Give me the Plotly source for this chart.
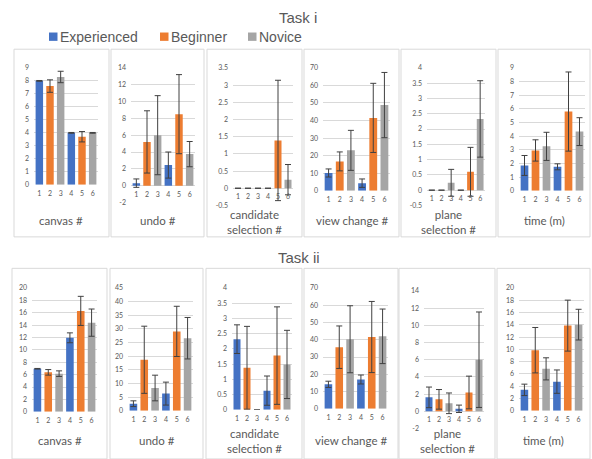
import plotly.graph_objects as go

# ---------------- data ----------------
categories = [1, 2, 3, 4, 5, 6]
group_names = ["Experienced", "Beginner", "Novice"]
group_colors = ["#4472C4", "#ED7D31", "#A5A5A5"]
bar_colors = ["#4472C4", "#ED7D31", "#A5A5A5", "#4472C4", "#ED7D31", "#A5A5A5"]

metric_titles = ["canvas #", "undo #", "candidate<br>selection #",
                 "view change #", "plane<br>selection #", "time (m)"]

# Task i
t1_canvas = [8.0, 7.6, 8.3, 4.0, 3.7, 4.0]
t1_canvas_err = [0.03, 0.48, 0.44, 0.03, 0.4, 0.03]
t1_undo = [0.3, 5.2, 6.0, 2.45, 8.5, 3.75]
t1_undo_err = [0.5, 3.7, 4.7, 1.55, 4.7, 1.5]
t1_cand = [0, 0, 0, 0, 1.39, 0.25]
t1_cand_err = [0, 0, 0, 0, 1.75, 0.44]
t1_view = [10.1, 16.7, 23.0, 4.3, 41.5, 48.8]
t1_view_err = [2.3, 5.4, 11.4, 2.4, 19.7, 18.6]
t1_plane = [0, 0, 0.24, 0, 0.6, 2.33]
t1_plane_err = [0, 0, 0.44, 0, 0.8, 1.25]
t1_time = [1.85, 2.95, 3.25, 1.75, 5.8, 4.33]
t1_time_err = [0.73, 0.78, 1.03, 0.22, 2.9, 1.02]

# Task ii
t2_canvas = [6.95, 6.37, 6.16, 11.95, 16.3, 14.4]
t2_canvas_err = [0.05, 0.45, 0.45, 0.8, 2.35, 2.2]
t2_undo = [2.6, 18.7, 8.35, 6.3, 29.1, 26.6]
t2_undo_err = [1.05, 12.3, 4.7, 4.2, 9.2, 7.6]
t2_cand = [2.32, 1.38, 0, 0.63, 1.78, 1.49]
t2_cand_err = [0.47, 1.36, 0, 0.48, 1.6, 1.12]
t2_view = [14.2, 35.7, 40.3, 17.0, 41.6, 42.0]
t2_view_err = [1.8, 12.3, 19.4, 2.6, 20.6, 15.8]
t2_plane = [1.62, 1.39, 0.93, 0.29, 2.19, 6.0]
t2_plane_err = [1.2, 1.14, 1.2, 0.43, 1.9, 5.55]
t2_time = [3.41, 9.87, 6.83, 4.75, 13.87, 14.03]
t2_time_err = [0.93, 3.7, 1.8, 1.9, 4.15, 2.5]

# y axis scales (min, max, step)
t1_scales = [(0, 9, 1), (-2, 14, 2), (-0.5, 3.5, 0.5), (0, 70, 10), (-0.5, 4, 0.5), (0, 9, 1)]
t2_scales = [(0, 20, 2), (0, 45, 5), (0, 4, 0.5), (0, 70, 10), (-2, 14, 2), (0, 20, 2)]

# ---------------- layout geometry (pixels) ----------------
W, H = 592, 459
GRID = "#D9D9D9"
TXT = "#595959"

row1_panels = [(14, 109), (111, 204), (207, 302), (304, 399), (401, 496), (498, 590)]
row2_panels = [(12, 107), (110, 203), (206, 302), (304, 398), (399, 495), (497, 590)]
row1_box = (45, 236)
row2_box = (268, 462)
row1_plots = [(34, 98, 64, 183), (131, 195, 64, 201), (233, 293, 64, 204),
              (323, 390, 64, 189), (427, 485, 64, 204), (519, 585, 64, 189)]
row2_plots = [(32, 97, 288, 414), (128, 193, 288, 413), (232, 292, 288, 412),
              (323, 388, 288, 411), (424, 484, 291, 431), (519, 584, 288, 413)]


def px(x):
    return x / W


def py(y):
    return 1 - y / H


def fmt(v):
    return f"{v:g}"


rows = [
    dict(vals=[t1_canvas, t1_undo, t1_cand, t1_view, t1_plane, t1_time],
         errs=[t1_canvas_err, t1_undo_err, t1_cand_err, t1_view_err, t1_plane_err, t1_time_err],
         scales=t1_scales, panels=row1_panels, box=row1_box, plots=row1_plots,
         title_y=(219.5, 220.5)),
    dict(vals=[t2_canvas, t2_undo, t2_cand, t2_view, t2_plane, t2_time],
         errs=[t2_canvas_err, t2_undo_err, t2_cand_err, t2_view_err, t2_plane_err, t2_time_err],
         scales=t2_scales, panels=row2_panels, box=row2_box, plots=row2_plots,
         title_y=(443.5, 444)),
]

fig = go.Figure()
layout = {}
shapes = []
annotations = []

n = 0
for row in rows:
    for k in range(6):
        n += 1
        suffix = "" if n == 1 else str(n)
        x0, x1, ytop, ybot = row["plots"][k]
        ymin, ymax, step = row["scales"][k]
        fig.add_trace(go.Bar(
            x=categories, y=row["vals"][k],
            marker=dict(color=bar_colors, line=dict(width=0)),
            width=0.7,
            error_y=dict(type="data", array=row["errs"][k], visible=True,
                         color="#404040", thickness=1, width=3),
            xaxis="x" + suffix, yaxis="y" + suffix, showlegend=False,
            hoverinfo="x+y",
        ))
        zero_px = ytop + (ymax - 0) / (ymax - ymin) * (ybot - ytop)
        nt = int(round((ymax - ymin) / step))
        tv = [ymin + i * step for i in range(nt + 1)]
        layout["xaxis" + suffix] = dict(
            domain=[px(x0), px(x1)], range=[0.5, 6.5], anchor="free",
            position=py(zero_px), tickvals=categories,
            ticktext=[str(c) for c in categories],
            showgrid=False, zeroline=False, showline=False, ticks="",
            ticklabelstandoff=3,
            tickfont=dict(family="Lato", size=7, color=TXT), fixedrange=True,
        )
        layout["yaxis" + suffix] = dict(
            domain=[py(ybot), py(ytop)], range=[ymin, ymax], anchor="x" + suffix,
            tickvals=tv, ticktext=[fmt(v) for v in tv],
            showgrid=True, gridcolor=GRID, gridwidth=1, zeroline=False,
            showline=False, ticks="", ticklabelstandoff=4,
            tickfont=dict(family="Lato", size=7, color=TXT), fixedrange=True,
        )
        # panel border
        px0, px1 = row["panels"][k]
        by0, by1 = row["box"]
        shapes.append(dict(type="rect", xref="paper", yref="paper",
                           x0=px(px0), x1=px(px1), y0=py(by1), y1=py(by0),
                           line=dict(color=GRID, width=1), fillcolor="rgba(0,0,0,0)",
                           layer="below"))
        two = "<br>" in metric_titles[k]
        ty = row["title_y"][1] if two else row["title_y"][0]
        annotations.append(dict(text=metric_titles[k], xref="paper", yref="paper",
                                x=px((px0 + px1) / 2), y=py(ty), xanchor="center",
                                yanchor="middle", showarrow=False,
                                font=dict(family="Lato", size=11.5, color=TXT)))

# Task titles
annotations.append(dict(text="Task i", xref="paper", yref="paper", x=px(298), y=py(13),
                        xanchor="center", yanchor="middle", showarrow=False,
                        font=dict(family="Liberation Sans", size=15, color=TXT)))
annotations.append(dict(text="Task ii", xref="paper", yref="paper", x=px(299), y=py(257),
                        xanchor="center", yanchor="middle", showarrow=False,
                        font=dict(family="Liberation Sans", size=15, color=TXT)))

# Legend
legend_sq_x = [49, 160, 248]
for name, color, sx in zip(group_names, group_colors, legend_sq_x):
    shapes.append(dict(type="rect", xref="paper", yref="paper",
                       x0=px(sx), x1=px(sx + 8.5), y0=py(36.5), y1=py(28),
                       line=dict(width=0), fillcolor=color))
    annotations.append(dict(text=name, xref="paper", yref="paper", x=px(sx + 10),
                            y=py(32.5), xanchor="left", yanchor="middle",
                            showarrow=False, borderpad=0,
                            font=dict(family="Liberation Sans", size=14, color=TXT)))

fig.update_layout(
    width=W, height=H, margin=dict(l=0, r=0, t=0, b=0),
    paper_bgcolor="white", plot_bgcolor="white",
    shapes=shapes, annotations=annotations, bargap=0.3,
    **layout,
)

fig.write_html("out.html", config={"displayModeBar": False},
               post_script="document.body.style.margin='0px';document.body.style.overflow='hidden';")
